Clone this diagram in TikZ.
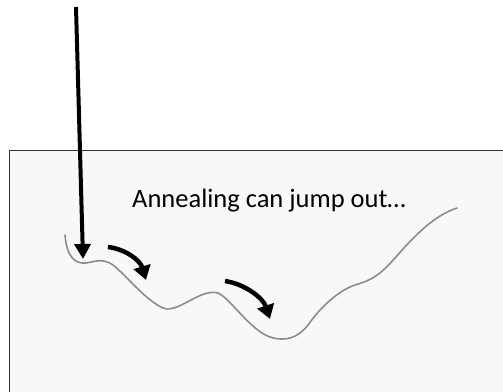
\documentclass[tikz,border=0pt]{standalone}
\usepackage{fontspec}
\setmainfont{Carlito}
\usetikzlibrary{arrows.meta}
\definecolor{paper}{HTML}{F7F8FA}
\definecolor{frame}{HTML}{333333}
\definecolor{curvegray}{HTML}{8C8C8C}
\tikzset{
  bigarrow/.style={line width=4pt,-{Triangle[length=15pt,width=16pt]}},
  hoparrow/.style={line width=4.5pt,-{Triangle[length=14pt,width=17pt]}},
  landscape/.style={curvegray,line width=1.6pt,line cap=round}
}
\begin{document}
\begin{tikzpicture}[x=1pt,y=-1pt]
\useasboundingbox (0,0) rectangle (503,391);
\fill[white] (0,0) rectangle (503,391);
\draw[frame,fill=paper,line width=0.8pt] (9,150) rectangle (520,410);
\node[font=\fontsize{26.5}{30}\selectfont,inner sep=0pt,anchor=base] (txt) at (269,207) {Annealing can jump out…};
\draw[landscape] (65,235) .. controls (66,248) and (70,262) .. (82,263)
  .. controls (92,264) and (100,256) .. (113,265)
  .. controls (125,274) and (145,300) .. (163,308)
  .. controls (178,314) and (200,288) .. (218,293)
  .. controls (230,298) and (250,330) .. (270,337)
  .. controls (285,342) and (298,338) .. (308,325)
  .. controls (322,305) and (340,290) .. (355,285)
  .. controls (372,280) and (380,275) .. (395,258)
  .. controls (415,235) and (435,215) .. (457,208);
\coordinate (drop0) at (76,7);
\coordinate (drop1) at (83,259);
\draw[bigarrow] (drop0) -- (drop1);
\coordinate (h1s) at (108,247);
\coordinate (h1e) at (146,280);
\draw[hoparrow] (h1s) .. controls (125,249) and (140,260) .. (h1e);
\coordinate (h2s) at (225,281);
\coordinate (h2e) at (270,319);
\draw[hoparrow] (h2s) .. controls (245,284) and (263,298) .. (h2e);
\end{tikzpicture}
\end{document}
